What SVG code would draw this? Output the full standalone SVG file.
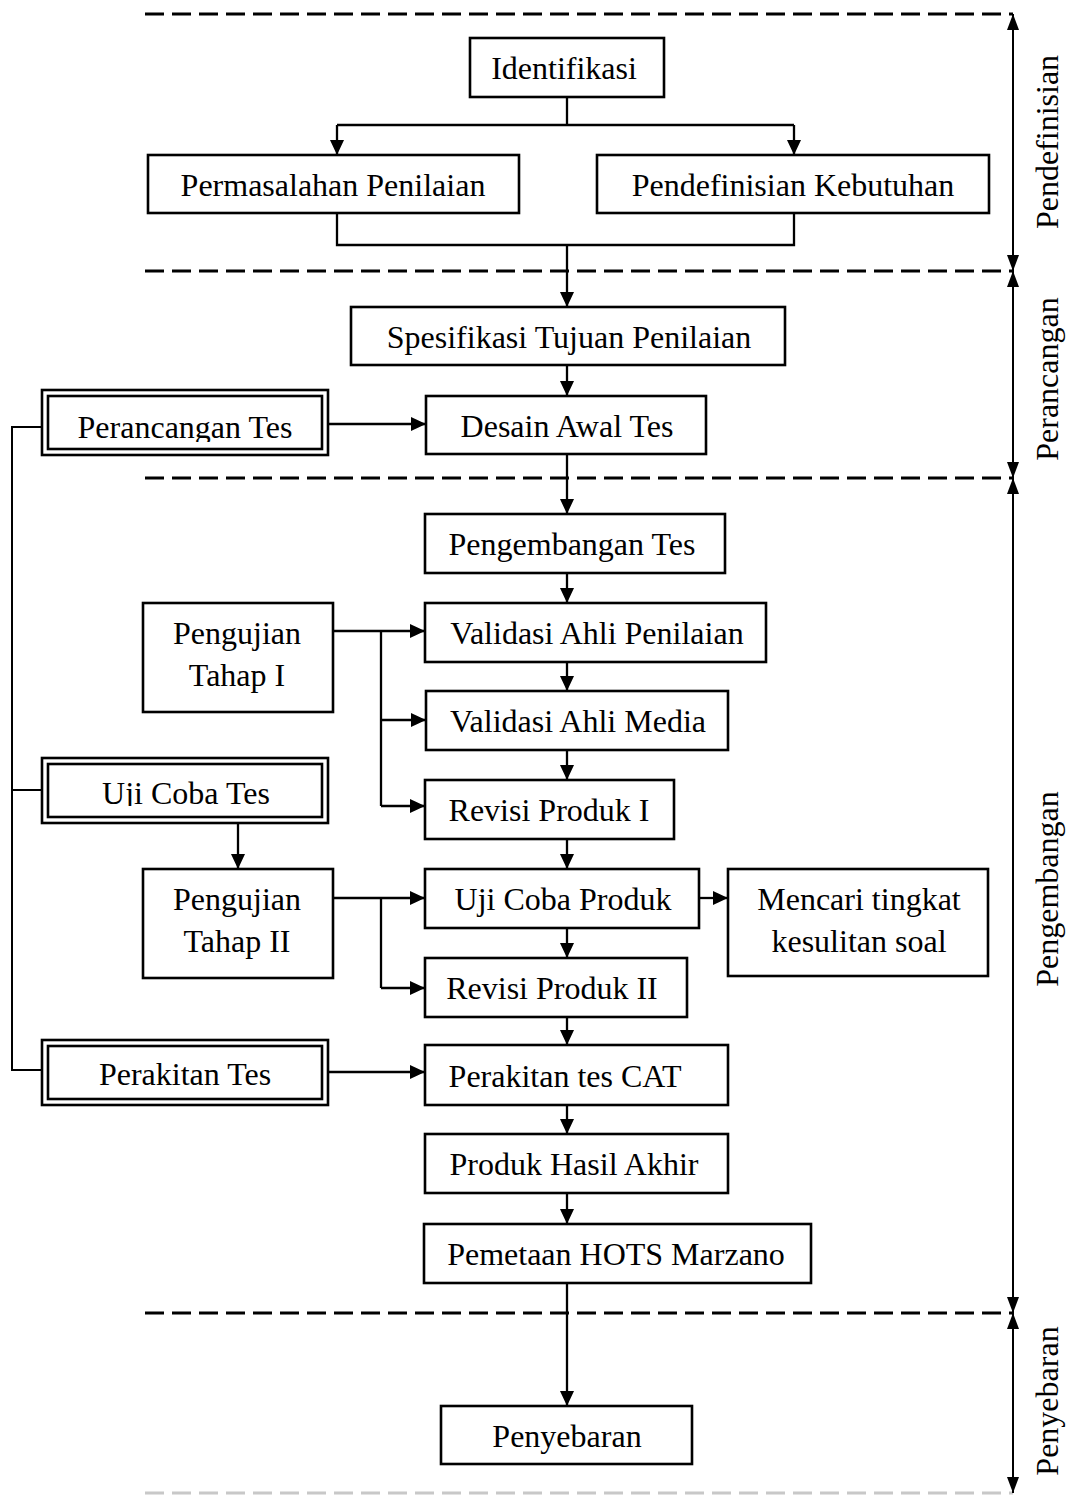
<svg xmlns="http://www.w3.org/2000/svg" width="1072" height="1495" viewBox="0 0 1072 1495">
<style>
.bg{fill:#fff}
.box{fill:#fff;stroke:#000;stroke-width:2.6}
.t{font-family:"Liberation Serif","Times New Roman",serif;font-size:32px;text-anchor:middle;fill:#000}
.c{fill:none;stroke:#000;stroke-width:2.3}
.dash{fill:none;stroke:#000;stroke-width:3;stroke-dasharray:19 8}
.dim{fill:none;stroke:#000;stroke-width:2}
</style>
<defs>
<marker id="ah" markerUnits="userSpaceOnUse" markerWidth="15" markerHeight="14" refX="15" refY="7" orient="auto">
<path d="M0,0 L15,7 L0,14 Z" fill="#000"/>
</marker>
<marker id="dh" markerUnits="userSpaceOnUse" markerWidth="16" markerHeight="12" refX="16" refY="6" orient="auto-start-reverse">
<path d="M0,0 L16,6 L0,12 Z" fill="#000"/>
</marker>
<clipPath id="clipPT"><rect x="48" y="396" width="274" height="46"/></clipPath>
<clipPath id="clipUT"><rect x="48" y="764" width="274" height="42"/></clipPath>
</defs>
<rect class="bg" x="0" y="0" width="1072" height="1495"/>

<g id="phases">
<line class="dash" x1="145" y1="14" x2="1013" y2="14"/>
<line class="dash" x1="145" y1="271" x2="1013" y2="271"/>
<line class="dash" x1="145" y1="478" x2="1013" y2="478"/>
<line class="dash" x1="145" y1="1313" x2="1013" y2="1313"/>
<line class="dash" x1="145" y1="1493" x2="1013" y2="1493" style="stroke:#c8c8c8"/>
<line class="dim" x1="1013" y1="14" x2="1013" y2="271" marker-start="url(#dh)" marker-end="url(#dh)"/>
<line class="dim" x1="1013" y1="271" x2="1013" y2="478" marker-start="url(#dh)" marker-end="url(#dh)"/>
<line class="dim" x1="1013" y1="478" x2="1013" y2="1313" marker-start="url(#dh)" marker-end="url(#dh)"/>
<line class="dim" x1="1013" y1="1313" x2="1013" y2="1493" marker-start="url(#dh)" marker-end="url(#dh)"/>
<text class="t" transform="translate(1058,142) rotate(-90)">Pendefinisian</text>
<text class="t" transform="translate(1058,379) rotate(-90)">Perancangan</text>
<text class="t" transform="translate(1058,889) rotate(-90)">Pengembangan</text>
<text class="t" transform="translate(1058,1401) rotate(-90)">Penyebaran</text>
</g>

<g id="connectors">
<path class="c" d="M567,97 V125 M337,125 H794"/>
<path class="c" d="M337,125 V155" marker-end="url(#ah)"/>
<path class="c" d="M794,125 V155" marker-end="url(#ah)"/>
<path class="c" d="M337,213 V245 H794 V213"/>
<path class="c" d="M567,245 V307" marker-end="url(#ah)"/>
<path class="c" d="M567,365 V396" marker-end="url(#ah)"/>
<path class="c" d="M328,424 H426" marker-end="url(#ah)"/>
<path class="c" d="M567,454 V514" marker-end="url(#ah)"/>
<path class="c" d="M567,573 V603" marker-end="url(#ah)"/>
<path class="c" d="M333,631 H425" marker-end="url(#ah)"/>
<path class="c" d="M381,631 V806"/>
<path class="c" d="M381,720 H426" marker-end="url(#ah)"/>
<path class="c" d="M381,806 H425" marker-end="url(#ah)"/>
<path class="c" d="M567,662 V691" marker-end="url(#ah)"/>
<path class="c" d="M567,750 V780" marker-end="url(#ah)"/>
<path class="c" d="M567,839 V869" marker-end="url(#ah)"/>
<path class="c" d="M238,823 V869" marker-end="url(#ah)"/>
<path class="c" d="M333,898 H425" marker-end="url(#ah)"/>
<path class="c" d="M381,898 V988"/>
<path class="c" d="M381,988 H425" marker-end="url(#ah)"/>
<path class="c" d="M699,898 H728" marker-end="url(#ah)"/>
<path class="c" d="M567,928 V958" marker-end="url(#ah)"/>
<path class="c" d="M567,1017 V1045" marker-end="url(#ah)"/>
<path class="c" d="M328,1072 H425" marker-end="url(#ah)"/>
<path class="c" d="M567,1105 V1134" marker-end="url(#ah)"/>
<path class="c" d="M567,1193 V1224" marker-end="url(#ah)"/>
<path class="c" d="M567,1283 V1406" marker-end="url(#ah)"/>
<path class="c" style="stroke-width:2" d="M42,427 H12 V1070 H42 M12,790 H42"/>
</g>

<g id="identifikasi"><rect class="box" x="470" y="38" width="194" height="59"/><text class="t" x="564" y="79">Identifikasi</text></g>
<g id="permasalahan"><rect class="box" x="148" y="155" width="371" height="58"/><text class="t" x="333" y="196">Permasalahan Penilaian</text></g>
<g id="kebutuhan"><rect class="box" x="597" y="155" width="392" height="58"/><text class="t" x="793" y="196">Pendefinisian Kebutuhan</text></g>
<g id="spesifikasi"><rect class="box" x="351" y="307" width="434" height="58"/><text class="t" x="569" y="348">Spesifikasi Tujuan Penilaian</text></g>
<g id="desain"><rect class="box" x="426" y="396" width="280" height="58"/><text class="t" x="567" y="437">Desain Awal Tes</text></g>
<g id="perancangan-tes"><rect class="box" x="42" y="390" width="286" height="65"/><rect class="box" x="48" y="396" width="274" height="53"/><text class="t" x="185" y="438" clip-path="url(#clipPT)">Perancangan Tes</text></g>
<g id="pengembangan-tes"><rect class="box" x="425" y="514" width="300" height="59"/><text class="t" x="572" y="555">Pengembangan Tes</text></g>
<g id="pengujian-1"><rect class="box" x="143" y="603" width="190" height="109"/><text class="t" x="237" y="644">Pengujian</text><text class="t" x="237" y="686">Tahap I</text></g>
<g id="validasi-penilaian"><rect class="box" x="425" y="603" width="341" height="59"/><text class="t" x="597" y="644">Validasi Ahli Penilaian</text></g>
<g id="validasi-media"><rect class="box" x="426" y="691" width="302" height="59"/><text class="t" x="578" y="732">Validasi Ahli Media</text></g>
<g id="uji-coba-tes"><rect class="box" x="42" y="758" width="286" height="65"/><rect class="box" x="48" y="764" width="274" height="53"/><text class="t" x="186" y="804" clip-path="url(#clipUT)">Uji Coba Tes</text></g>
<g id="revisi-1"><rect class="box" x="425" y="780" width="249" height="59"/><text class="t" x="549" y="821">Revisi Produk I</text></g>
<g id="pengujian-2"><rect class="box" x="143" y="869" width="190" height="109"/><text class="t" x="237" y="910">Pengujian</text><text class="t" x="237" y="952">Tahap II</text></g>
<g id="uji-coba-produk"><rect class="box" x="425" y="869" width="274" height="59"/><text class="t" x="563" y="910">Uji Coba Produk</text></g>
<g id="mencari"><rect class="box" x="728" y="869" width="260" height="107"/><text class="t" x="859" y="910">Mencari tingkat</text><text class="t" x="859" y="952">kesulitan soal</text></g>
<g id="revisi-2"><rect class="box" x="425" y="958" width="262" height="59"/><text class="t" x="552" y="999">Revisi Produk II</text></g>
<g id="perakitan-tes"><rect class="box" x="42" y="1040" width="286" height="65"/><rect class="box" x="48" y="1046" width="274" height="53"/><text class="t" x="185" y="1085">Perakitan Tes</text></g>
<g id="perakitan-cat"><rect class="box" x="425" y="1045" width="303" height="60"/><text class="t" x="565" y="1087">Perakitan tes CAT</text></g>
<g id="produk-hasil"><rect class="box" x="425" y="1134" width="303" height="59"/><text class="t" x="574" y="1175">Produk Hasil Akhir</text></g>
<g id="pemetaan"><rect class="box" x="424" y="1224" width="387" height="59"/><text class="t" x="616" y="1265">Pemetaan HOTS Marzano</text></g>
<g id="penyebaran"><rect class="box" x="441" y="1406" width="251" height="58"/><text class="t" x="567" y="1447">Penyebaran</text></g>
</svg>
